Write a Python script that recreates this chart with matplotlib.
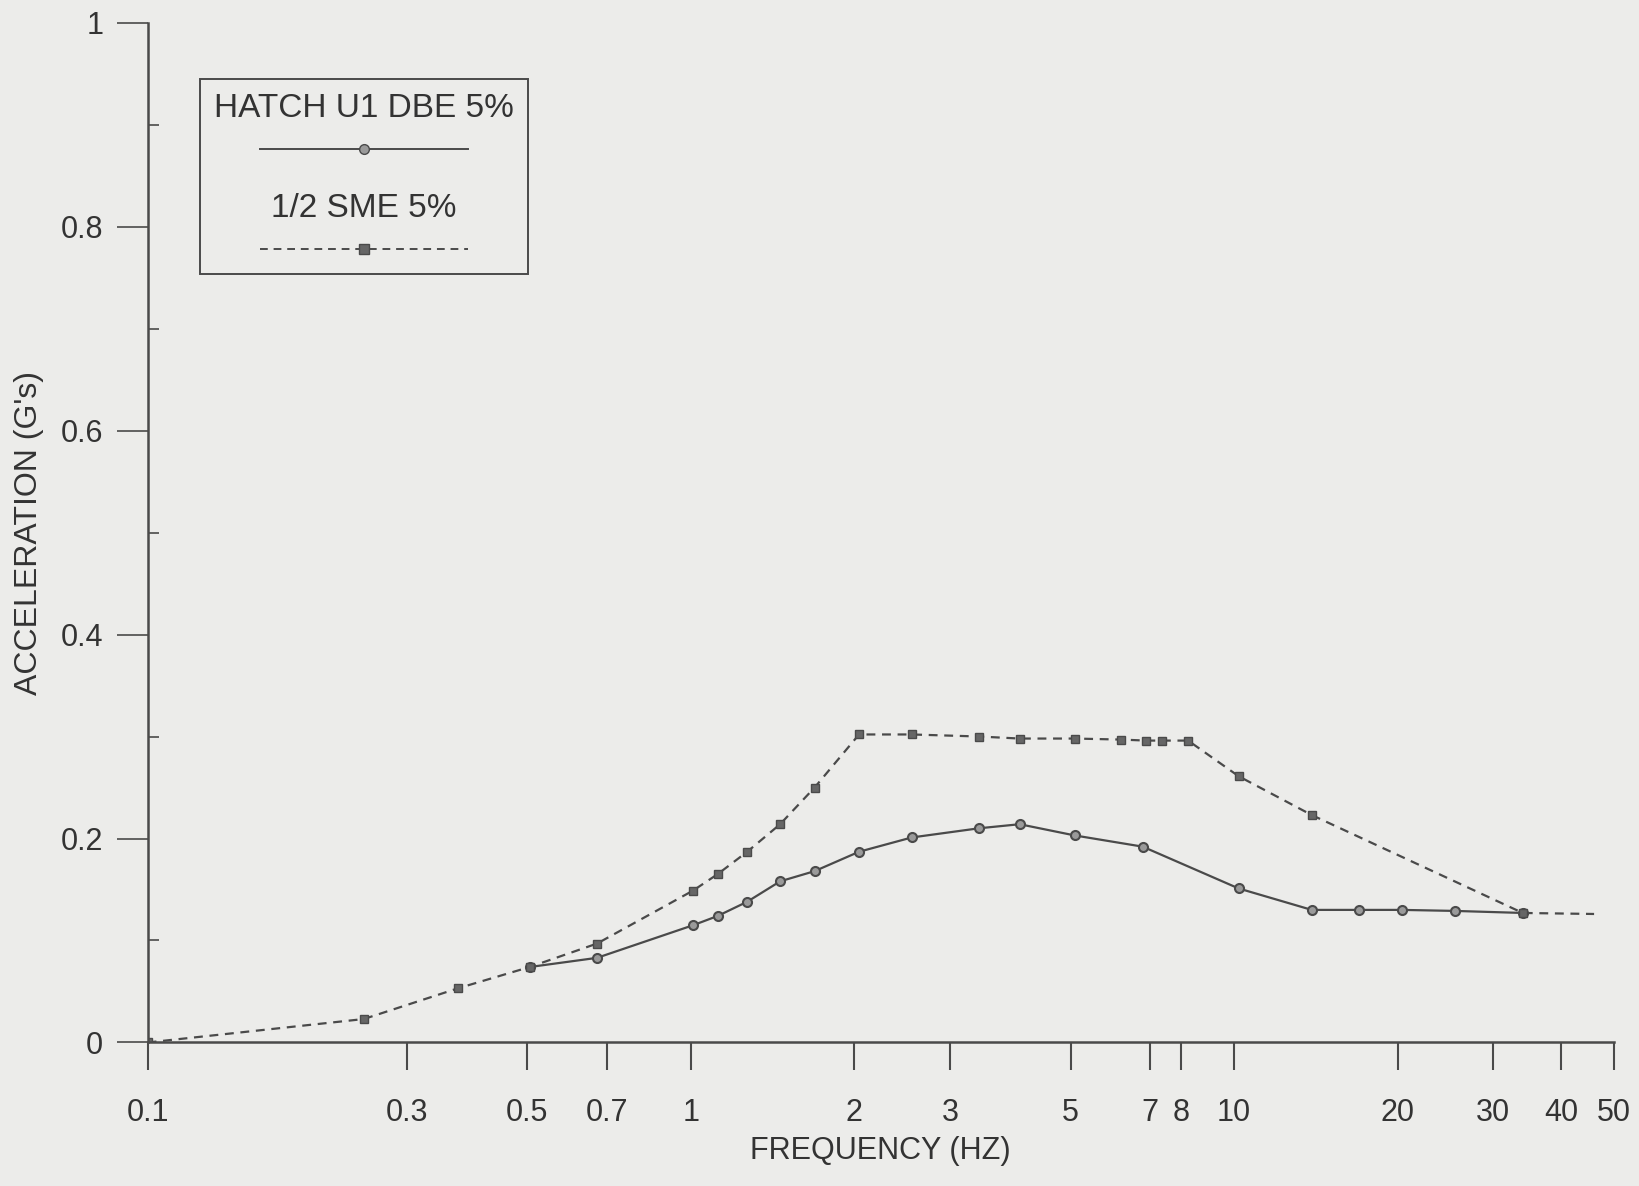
import matplotlib.pyplot as plt
from matplotlib.lines import Line2D
from matplotlib.offsetbox import (AnchoredOffsetbox, VPacker, TextArea,
                                  DrawingArea)
from matplotlib.ticker import FixedLocator, NullFormatter, NullLocator

# HATCH U1 DBE 5% (solid)
dbe_freq = [0.505, 0.672, 1.01, 1.12, 1.27, 1.46, 1.69, 2.04, 2.55, 3.39,
            4.03, 5.09, 6.79, 10.2, 13.9, 17.0, 20.4, 25.5, 34.0]
dbe_acc = [0.074, 0.083, 0.115, 0.124, 0.138, 0.158, 0.168, 0.187, 0.201,
           0.210, 0.214, 0.203, 0.192, 0.151, 0.130, 0.130, 0.130, 0.129,
           0.127]

# 1/2 SME 5% (dashed)
sme_freq = [0.1, 0.25, 0.372, 0.505, 0.672, 1.01, 1.12, 1.27, 1.46, 1.69,
            2.04, 2.55, 3.39, 4.03, 5.09, 6.19, 6.89, 7.36, 8.23, 10.2,
            13.9, 34.0, 46.0]
sme_acc = [0.0, 0.023, 0.053, 0.074, 0.097, 0.149, 0.165, 0.187, 0.214,
           0.250, 0.302, 0.302, 0.300, 0.298, 0.298, 0.297, 0.296, 0.296,
           0.296, 0.261, 0.223, 0.127, 0.126]

x_ticks = [0.1, 0.3, 0.5, 0.7, 1, 2, 3, 5, 7, 8, 10, 20, 30, 40, 50]
x_labels = ['0.1', '0.3', '0.5', '0.7', '1', '2', '3', '5', '7', '8', '10',
            '20', '30', '40', '50']
y_ticks = [0, 0.2, 0.4, 0.6, 0.8, 1]
y_labels = ['0', '0.2', '0.4', '0.6', '0.8', '1']

INK = '#4a4a4a'
BG = '#ececea'

plt.rcParams['font.family'] = ['Liberation Sans Narrow', 'Liberation Sans',
                               'DejaVu Sans']

fig = plt.figure(figsize=(16.4, 11.86), dpi=100, facecolor=BG)
ax = fig.add_axes([0.09, 0.121, 0.894, 0.86])
ax.set_facecolor(BG)

ax.plot(dbe_freq, dbe_acc, '-', color=INK, lw=1.6, marker='o', ms=6.5,
        mfc='#9a9a9a', mec=INK, mew=1.5)
ax.plot(sme_freq, sme_acc, '--', color=INK, lw=1.6, dashes=(4, 3),
        marker='s', ms=6, mfc='#666666', mec=INK,
        markevery=list(range(len(sme_freq) - 1)))

ax.set_xscale('log')
ax.set_xlim(0.1, 50)
ax.set_ylim(0, 1)
ax.xaxis.set_major_locator(FixedLocator(x_ticks))
ax.xaxis.set_minor_locator(NullLocator())
ax.xaxis.set_minor_formatter(NullFormatter())
ax.set_xticklabels(x_labels)
ax.set_yticks(y_ticks)
ax.set_yticklabels(y_labels)
ax.yaxis.set_minor_locator(FixedLocator([0.1, 0.3, 0.5, 0.7, 0.9]))

for s in ['top', 'right']:
    ax.spines[s].set_visible(False)
for s in ['left', 'bottom']:
    ax.spines[s].set_color(INK)
    ax.spines[s].set_linewidth(1.8)

ax.tick_params(axis='x', direction='out', length=20, width=1.5, color=INK,
               labelcolor='#333333', labelsize=22, pad=20)
ax.tick_params(axis='y', which='major', direction='out', length=22,
               width=1.2, color=INK, labelcolor='#333333', labelsize=22,
               pad=10)
ax.tick_params(axis='y', which='minor', direction='in', length=8,
               width=1.2, color=INK)

ax.set_xlabel('FREQUENCY (HZ)', fontsize=22, color='#333333', labelpad=6)
ax.set_ylabel("ACCELERATION (G's)", fontsize=23, color='#333333',
              labelpad=12)


def legend_entry(label, **line_kw):
    txt = TextArea(label, textprops=dict(fontsize=24, color='#333333'))
    da = DrawingArea(150, 16, 0, 0)
    da.add_artist(Line2D([0, 75, 150], [8, 8, 8], color=INK, lw=1.4,
                         markevery=[1], ms=7, mec=INK, **line_kw))
    return VPacker(children=[txt, da], align='center', pad=0, sep=10)


entries = VPacker(children=[
    legend_entry('HATCH U1 DBE 5%', marker='o', mfc='#9a9a9a'),
    legend_entry('1/2 SME 5%', ls='--', dashes=(4, 3), marker='s',
                 mfc='#666666'),
], align='center', pad=0, sep=24)
box = AnchoredOffsetbox(loc='upper left', child=entries, pad=1.0,
                        borderpad=0, frameon=True,
                        bbox_to_anchor=(0.036, 0.945),
                        bbox_transform=ax.transAxes)
box.patch.set_facecolor(BG)
box.patch.set_edgecolor(INK)
box.patch.set_linewidth(1.4)
ax.add_artist(box)

fig.savefig('out.png', dpi=100, facecolor=BG)
